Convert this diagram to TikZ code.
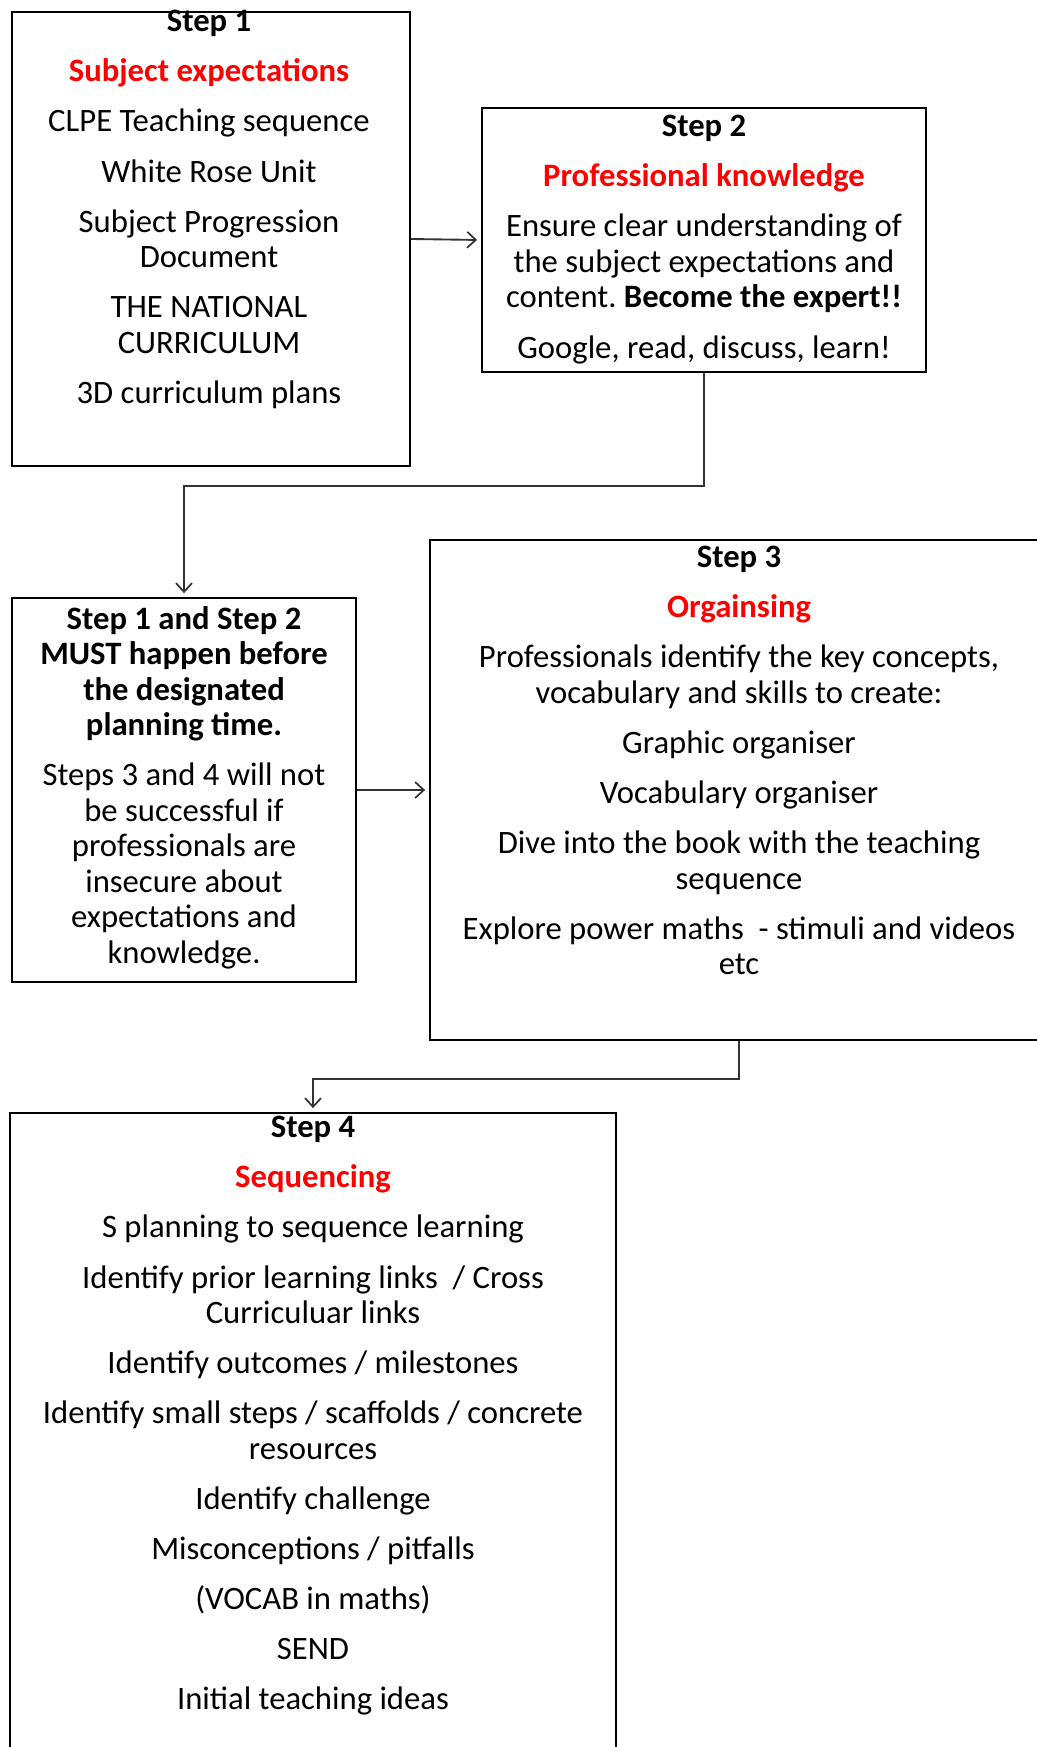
\documentclass[tikz,border=0pt]{standalone}
\usepackage{fontspec}
\setmainfont{Carlito}
\usetikzlibrary{arrows.meta}
\definecolor{titlered}{RGB}{255,0,0}
\frenchspacing
\begin{document}
\begin{tikzpicture}[x=0.75pt,y=-0.75pt,
  box/.style={draw=black, line width=1.4pt, rectangle, inner sep=0pt},
  txt/.style={inner sep=0pt, align=center, anchor=north, font=\fontsize{24.5}{26.6}\selectfont},
  conn/.style={line width=1.4pt, draw=black!80, shorten >=3pt,
    -{Straight Barb[length=6.5pt,width=12pt,line width=1.3pt]}}]
\useasboundingbox (0,0) rectangle (1036,1747);
% boxes
\node[box, minimum width=298.5pt, minimum height=340.5pt] (b1) at (211,239) {};
\node[box, minimum width=333pt, minimum height=198pt] (b2) at (704,240) {};
\node[box, minimum width=258pt, minimum height=288pt] (b5) at (184,790) {};
\node[box, minimum width=463.5pt, minimum height=375pt] (b3) at (739,790) {};
\node[box, minimum width=454.5pt, minimum height=485.25pt] (b4) at (313,1436.5) {};
% texts
\node[txt] (t1) at (209,10) {\textbf{Step 1}\\[11pt]
\textcolor{titlered}{\textbf{Subject expectations}}\\[11pt]
CLPE Teaching sequence\\[11pt]
White Rose Unit\\[11pt]
Subject Progression\\Document\\[11pt]
THE NATIONAL\\CURRICULUM\\[11pt]
3D curriculum plans};
\node[txt] (t2) at (704,115) {\textbf{Step 2}\\[11pt]
\textcolor{titlered}{\textbf{Professional knowledge}}\\[11pt]
Ensure clear understanding of\\the subject expectations and\\content. \textbf{Become the expert!!}\\[11pt]
Google, read, discuss, learn!};
\node[txt] (t5) at (184,606) {\textbf{Step 1 and Step 2}\\\textbf{MUST happen before}\\\textbf{the designated}\\\textbf{planning time.}\\[11pt]
Steps 3 and 4 will not\\be successful if\\professionals are\\insecure about\\expectations and\\knowledge.};
\node[txt] (t3) at (739,546) {\textbf{Step 3}\\[11pt]
\textcolor{titlered}{\textbf{Orgainsing}}\\[11pt]
Professionals identify the key concepts,\\vocabulary and skills to create:\\[11pt]
Graphic organiser\\[11pt]
Vocabulary organiser\\[11pt]
Dive into the book with the teaching\\sequence\\[11pt]
Explore power maths\ \ - stimuli and videos\\etc};
\node[txt] (t4) at (313,1116) {\textbf{Step 4}\\[11pt]
\textcolor{titlered}{\textbf{Sequencing}}\\[11pt]
S planning to sequence learning\\[11pt]
Identify prior learning links\ \ / Cross\\Curriculuar links\\[11pt]
Identify outcomes / milestones\\[11pt]
Identify small steps / scaffolds / concrete\\resources\\[11pt]
Identify challenge\\[11pt]
Misconceptions / pitfalls\\[11pt]
(VOCAB in maths)\\[11pt]
SEND\\[11pt]
Initial teaching ideas};
% connectors
\draw[conn] (b1.east) -- (b2.west);
\draw[conn] (b2.south) -- ++(0,113) -| (b5.north);
\draw[conn] (b5.east) -- (b3.west);
\draw[conn] (b3.south) -- ++(0,38) -| (b4.north);
\end{tikzpicture}
\end{document}
